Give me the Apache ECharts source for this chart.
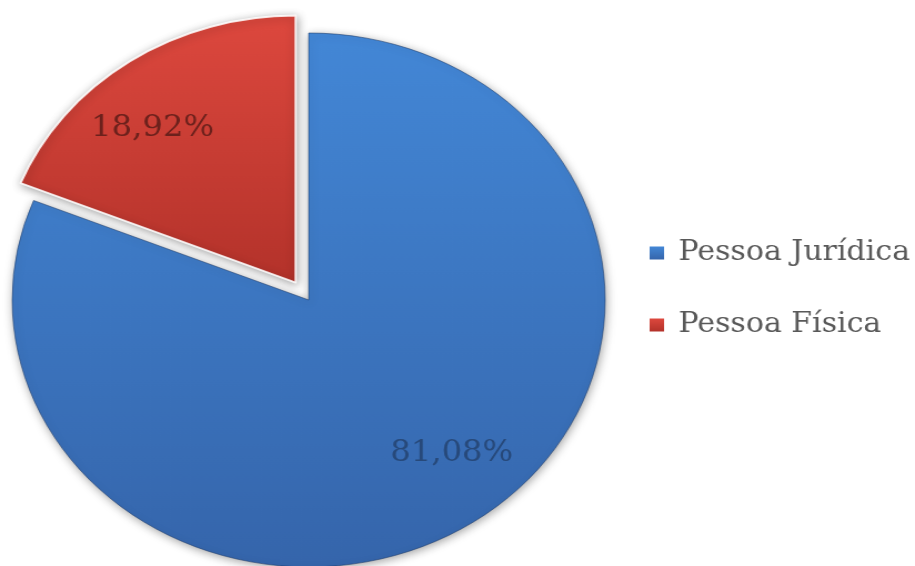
<!DOCTYPE html>
<html>
<head>
<meta charset="utf-8">
<script src="https://cdn.jsdelivr.net/npm/echarts@6/dist/echarts.min.js"></script>
<style>
  html, body { margin: 0; padding: 0; background: #ffffff; overflow: hidden; width: 915px; height: 566px; }
  /* the chart is drawn in a narrower box and widened, giving the oval pie */
  #chart { width: 824px; height: 566px; transform: scaleX(1.1104); transform-origin: 0 0; }
</style>
</head>
<body>
<div id="chart"></div>
<script>
// Share of contracts by type of person (%)
const categories = ['Pessoa Jurídica', 'Pessoa Física'];
const shares = [81.08, 18.92];
const explodedIndex = 1;

const sliceColors = [
  ['#4387d6', '#3565ab'],
  ['#dd483e', '#b3322a']
];
const labelColors = ['#27497a', '#6c211c'];

const PIE_CENTER = [278, 300];
const PIE_RADIUS = 267;
const EXPLODE = 21;

const total = shares.reduce((a, b) => a + b, 0);

function midAngleDeg(i) {
  let before = 0;
  for (let k = 0; k < i; k++) before += shares[k];
  return (before + shares[i] / 2) / total * 360;
}

const chart = echarts.init(document.getElementById('chart'), null, { renderer: 'canvas' });

const data = categories.map((name, i) => ({
  name: name,
  value: shares[i],
  selected: i === explodedIndex,
  itemStyle: {
    color: new echarts.graphic.LinearGradient(0, 0, 0, 1, [
      { offset: 0, color: sliceColors[i][0] },
      { offset: 1, color: sliceColors[i][1] }
    ]),
    borderColor: i === explodedIndex ? 'rgba(255,255,255,0.85)' : 'rgba(28,58,105,0.55)',
    borderWidth: i === explodedIndex ? 2 : 1
  },
  label: { color: labelColors[i] }
}));

chart.setOption({
  animation: false,
  backgroundColor: '#ffffff',
  legend: {
    orient: 'vertical',
    left: 580,
    top: 233,
    icon: 'rect',
    itemWidth: 13,
    itemHeight: 13,
    itemGap: 42,
    selectedMode: false,
    itemStyle: { shadowBlur: 0, borderWidth: 0 },
    textStyle: {
      fontFamily: 'DejaVu Serif',
      fontSize: 27,
      color: '#595959',
      lineHeight: 30,
      padding: [0, 0, 0, 8]
    },
    data: categories
  },
  series: [{
    type: 'pie',
    center: PIE_CENTER,
    radius: PIE_RADIUS,
    startAngle: 90,
    clockwise: true,
    selectedMode: 'single',
    selectedOffset: EXPLODE,
    avoidLabelOverlap: false,
    emphasis: { disabled: true },
    itemStyle: {
      shadowBlur: 8,
      shadowColor: 'rgba(0,0,0,0.35)',
      shadowOffsetX: 1,
      shadowOffsetY: 2
    },
    label: {
      show: true,
      position: 'inside',
      fontFamily: 'DejaVu Serif',
      fontSize: 29,
      formatter: p => p.value.toFixed(2).replace('.', ',') + '%'
    },
    labelLine: { show: false },
    // push the inside labels out from half radius towards the rim
    labelLayout: function (p) {
      const mid = midAngleDeg(p.dataIndex);
      const m = mid * Math.PI / 180;
      const a = (mid - 6) * Math.PI / 180;
      return {
        dx: 0.74 * PIE_RADIUS * Math.sin(a) - 0.5 * PIE_RADIUS * Math.sin(m),
        dy: -0.74 * PIE_RADIUS * Math.cos(a) + 0.5 * PIE_RADIUS * Math.cos(m)
      };
    },
    data: data
  }]
});
</script>
</body>
</html>
